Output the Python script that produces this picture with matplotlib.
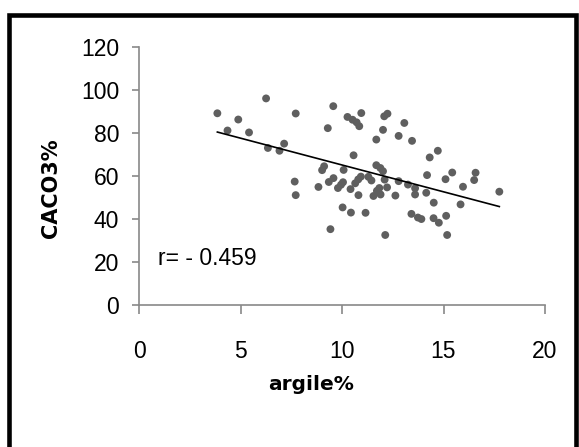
import matplotlib
matplotlib.use("Agg")
import matplotlib.pyplot as plt
import numpy as np
from matplotlib.patches import Rectangle

# ---- data ----
argile = [3.86, 4.36, 4.89, 5.42, 6.26, 6.35, 6.92, 7.15, 7.72, 7.67,
          7.72, 8.84, 9.30, 9.12, 9.02, 9.57, 9.43, 9.35, 9.58, 9.80,
          9.95, 10.05, 10.08, 10.57, 10.03, 10.44, 10.42, 10.81, 10.65, 10.80,
          10.93, 10.27, 10.52, 10.72, 10.85, 10.95, 11.16, 11.30, 11.45, 11.69,
          12.02, 12.08, 12.24, 11.69, 11.89, 12.02, 12.10, 11.55, 11.72, 11.84,
          11.90, 12.13, 12.22, 12.63, 12.79, 12.79, 13.07, 13.45, 13.25, 13.60,
          13.60, 14.15, 14.19, 14.32, 14.72, 14.52, 13.42, 13.74, 13.91, 14.51,
          14.77, 15.13, 15.18, 15.10, 15.43, 15.96, 15.84, 16.58, 16.51, 17.75]
caco3 = [89.0, 81.0, 86.1, 80.1, 95.9, 72.9, 71.6, 74.9, 88.9, 57.3,
         51.0, 54.8, 82.1, 64.4, 62.6, 92.3, 35.2, 57.1, 58.9, 54.3,
         55.8, 57.0, 62.7, 69.5, 45.3, 42.9, 53.8, 51.0, 56.5, 58.3,
         59.6, 87.3, 86.0, 84.8, 83.0, 89.1, 42.8, 59.5, 57.8, 76.8,
         81.3, 87.6, 88.8, 64.9, 63.6, 62.1, 58.2, 50.6, 53.0, 54.3,
         51.3, 32.5, 54.6, 50.8, 57.5, 78.5, 84.5, 76.2, 55.9, 54.2,
         51.3, 52.1, 60.3, 68.5, 71.6, 47.5, 42.3, 40.6, 39.9, 40.3,
         38.2, 41.4, 32.5, 58.4, 61.5, 54.9, 46.7, 61.4, 58.0, 52.6]

trend_slope = -2.49
trend_intercept = 89.9
r_label = "r= - 0.459"

x_ticks = [0, 5, 10, 15, 20]
y_ticks = [0, 20, 40, 60, 80, 100, 120]
x_label = "argile%"
y_label = "CACO3%"

# ---- figure ----
W, H = 579, 447
fig = plt.figure(figsize=(W / 100, H / 100), dpi=100)
fig.patch.set_facecolor("white")

tick_font = ["Liberation Sans", "DejaVu Sans"]

ax = fig.add_axes([139 / W, (H - 305) / H, 406 / W, (305 - 46.5) / H])
ax.set_xlim(0, 20)
ax.set_ylim(0, 120)

ax.scatter(argile, caco3, s=32, color="#5f5f5f", edgecolors="none", zorder=3)

xs = np.array([min(argile), max(argile)])
ax.plot(xs, trend_intercept + trend_slope * xs, color="black", lw=1.2, zorder=4)

for side in ["top", "right"]:
    ax.spines[side].set_visible(False)
for side in ["left", "bottom"]:
    ax.spines[side].set_color("#898989")
    ax.spines[side].set_linewidth(1.2)

ax.set_xticks(x_ticks)
ax.set_yticks(y_ticks)
ax.set_xticklabels([str(v) for v in x_ticks], fontsize=16.5, family=tick_font)
ax.set_yticklabels([str(v) for v in y_ticks], fontsize=16.5, family=tick_font)
ax.tick_params(axis="x", direction="out", length=6.5, width=1.2, color="#898989", pad=19)
ax.tick_params(axis="y", direction="out", length=5.3, width=1.2, color="#898989", pad=9)

ax.text(158 / W, (H - 258.5) / H, r_label, transform=fig.transFigure,
        fontsize=16.5, family=tick_font, ha="left", va="center")

fig.text(51 / W, (H - 188) / H, y_label, rotation=90, fontsize=15,
         fontweight="bold", family="DejaVu Sans", ha="center", va="center")
fig.text(311 / W, (H - 384) / H, x_label, fontsize=14.5,
         fontweight="bold", family="DejaVu Sans",
         ha="center", va="center")

# outer black frame
fig.patches.append(Rectangle((9.2 / W, -0.05), (575.5 - 9.2) / W, (H - 15) / H + 0.05,
                             transform=fig.transFigure, fill=False,
                             edgecolor="black", linewidth=3.3, zorder=10))

fig.savefig("out.png", dpi=100, facecolor="white")
